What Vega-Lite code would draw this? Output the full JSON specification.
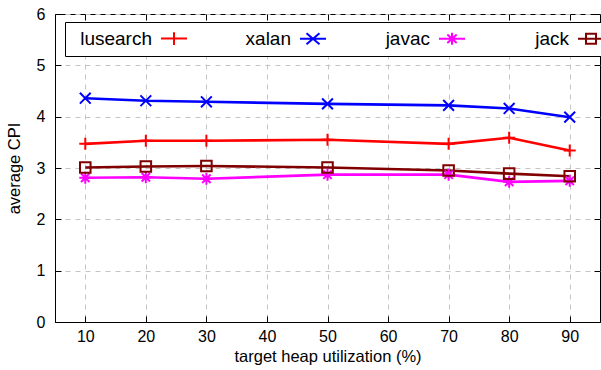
{
  "$schema": "https://vega.github.io/schema/vega-lite/v6.json",
  "width": 545,
  "height": 308,
  "autosize": {"type": "none"},
  "padding": {"left": 55, "top": 14, "right": 1, "bottom": 48},
  "config": {
    "font": "Liberation Sans",
    "view": {"stroke": "black", "strokeWidth": 1},
    "axis": {
      "domainColor": "black",
      "tickColor": "black",
      "tickSize": -6,
      "labelColor": "black",
      "titleColor": "black",
      "labelFontSize": 16,
      "titleFontSize": 16.5,
      "titleFontWeight": "normal",
      "gridColor": "#c4c4c4",
      "gridDash": [5, 5],
      "gridWidth": 1
    }
  },
  "data": {
    "values": [
      {"util": 10, "bench": "lusearch", "cpi": 3.47},
      {"util": 20, "bench": "lusearch", "cpi": 3.53},
      {"util": 30, "bench": "lusearch", "cpi": 3.53},
      {"util": 50, "bench": "lusearch", "cpi": 3.55},
      {"util": 70, "bench": "lusearch", "cpi": 3.47},
      {"util": 80, "bench": "lusearch", "cpi": 3.59},
      {"util": 90, "bench": "lusearch", "cpi": 3.34},
      {"util": 10, "bench": "xalan", "cpi": 4.36},
      {"util": 20, "bench": "xalan", "cpi": 4.31},
      {"util": 30, "bench": "xalan", "cpi": 4.29},
      {"util": 50, "bench": "xalan", "cpi": 4.25},
      {"util": 70, "bench": "xalan", "cpi": 4.22},
      {"util": 80, "bench": "xalan", "cpi": 4.16},
      {"util": 90, "bench": "xalan", "cpi": 3.99},
      {"util": 10, "bench": "javac", "cpi": 2.81},
      {"util": 20, "bench": "javac", "cpi": 2.82},
      {"util": 30, "bench": "javac", "cpi": 2.79},
      {"util": 50, "bench": "javac", "cpi": 2.87},
      {"util": 70, "bench": "javac", "cpi": 2.87},
      {"util": 80, "bench": "javac", "cpi": 2.73},
      {"util": 90, "bench": "javac", "cpi": 2.75},
      {"util": 10, "bench": "jack", "cpi": 3.01},
      {"util": 20, "bench": "jack", "cpi": 3.03},
      {"util": 30, "bench": "jack", "cpi": 3.04},
      {"util": 50, "bench": "jack", "cpi": 3.01},
      {"util": 70, "bench": "jack", "cpi": 2.95},
      {"util": 80, "bench": "jack", "cpi": 2.89},
      {"util": 90, "bench": "jack", "cpi": 2.84}
    ]
  },
  "encoding": {
    "color": {
      "field": "bench",
      "type": "nominal",
      "scale": {
        "domain": ["lusearch", "xalan", "javac", "jack"],
        "range": ["#ff0000", "#0000ff", "#ff00ff", "#800000"]
      },
      "legend": null
    }
  },
  "layer": [
    {
      "mark": {"type": "line", "strokeWidth": 2.6},
      "encoding": {
        "x": {
          "field": "util",
          "type": "quantitative",
          "scale": {"domain": [5, 95], "nice": false, "zero": false},
          "axis": {
            "values": [10, 20, 30, 40, 50, 60, 70, 80, 90],
            "grid": true,
            "labelPadding": 12,
            "title": "target heap utilization (%)",
            "titlePadding": 4
          }
        },
        "y": {
          "field": "cpi",
          "type": "quantitative",
          "scale": {"domain": [0, 6], "nice": false},
          "axis": {
            "values": [0, 1, 2, 3, 4, 5, 6],
            "grid": true,
            "labelPadding": 16,
            "title": "average CPI",
            "titlePadding": 14
          }
        },
        "detail": {"field": "bench"}
      }
    },
    {
      "mark": {"type": "point", "filled": false, "strokeWidth": 2, "opacity": 1, "size": 144},
      "encoding": {
        "x": {"field": "util", "type": "quantitative", "axis": null},
        "y": {"field": "cpi", "type": "quantitative", "axis": null},
        "shape": {
          "field": "bench",
          "type": "nominal",
          "scale": {
            "domain": ["lusearch", "xalan", "javac", "jack"],
            "range": [
              "M-1,0H1M0,-1V1",
              "M-0.9,-0.9L0.9,0.9M-0.9,0.9L0.9,-0.9",
              "M-1,0H1M0,-1V1M-0.7,-0.7L0.7,0.7M-0.7,0.7L0.7,-0.7",
              "M-0.88,-0.88H0.88V0.88H-0.88Z"
            ]
          },
          "legend": null
        }
      }
    },
    {
      "transform": [{"filter": "datum.cpi < 0"}],
      "mark": {"type": "point", "filled": false, "strokeWidth": 2, "opacity": 1},
      "encoding": {
        "x": {
          "field": "util",
          "type": "quantitative",
          "axis": {"orient": "top", "values": [10, 20, 30, 40, 50, 60, 70, 80, 90], "labels": false, "domain": false, "grid": false, "title": null}
        },
        "y": {
          "field": "cpi",
          "type": "quantitative",
          "axis": {"orient": "right", "values": [0, 1, 2, 3, 4, 5, 6], "labels": false, "domain": false, "grid": false, "title": null}
        },
        "color": {
          "field": "bench",
          "type": "nominal",
          "scale": {
            "domain": ["lusearch", "xalan", "javac", "jack"],
            "range": ["#ff0000", "#0000ff", "#ff00ff", "#800000"]
          },
          "legend": {
            "orient": "none",
            "legendX": 10,
            "legendY": 8,
            "direction": "horizontal",
            "columns": 4,
            "title": null,
            "symbolSize": 4,
            "symbolStrokeWidth": 2,
            "labelFontSize": 19,
            "labelColor": "black",
            "labelAlign": "right",
            "labelOffset": 61,
            "gridAlign": "all",
            "columnPadding": 16,
            "padding": 7,
            "strokeColor": "black",
            "fillColor": "white",
            "cornerRadius": 0
          }
        },
        "shape": {
          "field": "bench",
          "type": "nominal",
          "scale": {
            "domain": ["lusearch", "xalan", "javac", "jack"],
            "range": [
              "M-9.5,0M79.5,0H105.5M92.5,-6.3V6.3",
              "M-9.5,0M79.5,0H105.5M86,-5.5L99,5.5M86,5.5L99,-5.5",
              "M-9.5,0M79.5,0H105.5M92.5,-6V6M87.8,-4.3L97.2,4.3M87.8,4.3L97.2,-4.3",
              "M-9.5,0M79.5,0H105.5M87.5,-5H97.5V5H87.5Z"
            ]
          },
          "legend": {
            "orient": "none",
            "legendX": 10,
            "legendY": 8,
            "direction": "horizontal",
            "columns": 4,
            "title": null,
            "symbolSize": 4,
            "symbolStrokeWidth": 2,
            "labelFontSize": 19,
            "labelColor": "black",
            "labelAlign": "right",
            "labelOffset": 61,
            "gridAlign": "all",
            "columnPadding": 16,
            "padding": 7,
            "strokeColor": "black",
            "fillColor": "white",
            "cornerRadius": 0
          }
        }
      }
    }
  ],
  "resolve": {
    "scale": {"shape": "independent", "color": "independent"},
    "legend": {"shape": "independent", "color": "independent"},
    "axis": {"x": "independent", "y": "independent"}
  }
}
